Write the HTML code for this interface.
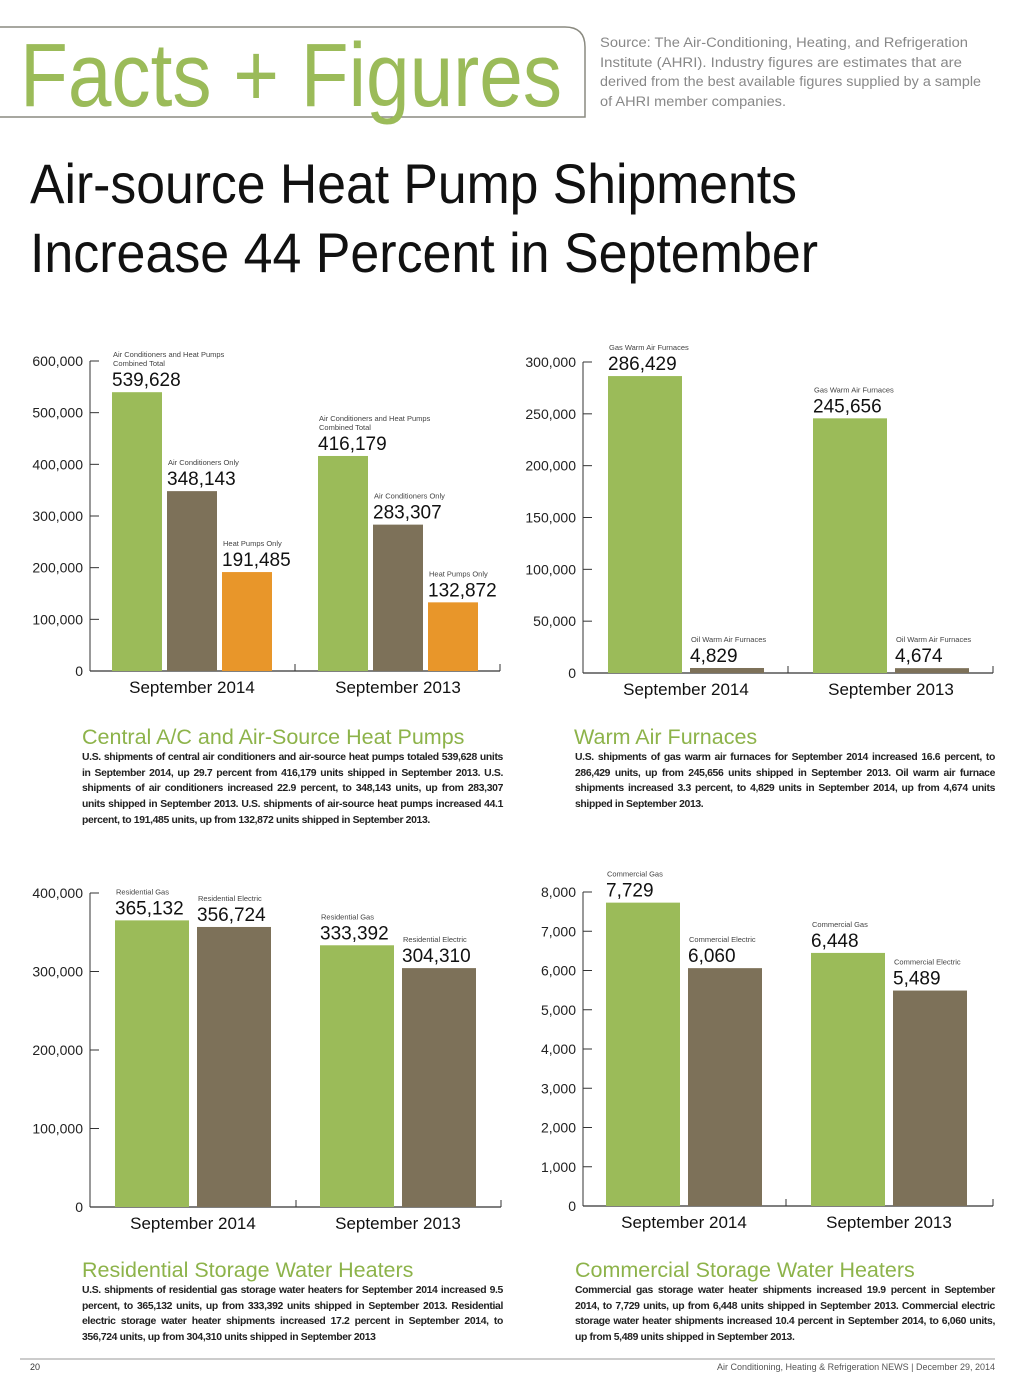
<!DOCTYPE html>
<html><head><meta charset="utf-8"><style>
body{margin:0;background:#fff;font-family:"Liberation Sans",sans-serif}
#page{position:relative;width:1024px;height:1389px;overflow:hidden;background:#fff}
.txt{position:absolute;font-size:10.4px;line-height:15.7px;color:#222;text-align:justify;font-weight:bold;letter-spacing:-0.35px}
.h{position:absolute;font-size:21.5px;color:#8db34a;white-space:nowrap}
</style></head><body>
<div id="page">
<svg id="svg" width="1024" height="1389" style="position:absolute;left:0;top:0">
<path d="M0 27 H565 Q585 27 585 47 V117 H0" fill="none" stroke="#8a8a80" stroke-width="1.5"/>
<text x="20" y="106" font-size="90" fill="#9bbb59" textLength="542" lengthAdjust="spacingAndGlyphs">Facts + Figures</text>
<g font-size="13.5" fill="#888">
<text x="600" y="47" textLength="368" lengthAdjust="spacingAndGlyphs">Source: The Air-Conditioning, Heating, and Refrigeration</text>
<text x="600" y="67" textLength="362" lengthAdjust="spacingAndGlyphs">Institute (AHRI). Industry figures are estimates that are</text>
<text x="600" y="86" textLength="381" lengthAdjust="spacingAndGlyphs">derived from the best available figures supplied by a sample</text>
<text x="600" y="106" textLength="186" lengthAdjust="spacingAndGlyphs">of AHRI member companies.</text>
</g>
<text x="30" y="203" font-size="56" fill="#111" textLength="767" lengthAdjust="spacingAndGlyphs">Air-source Heat Pump Shipments</text>
<text x="30" y="272" font-size="56" fill="#111" textLength="788" lengthAdjust="spacingAndGlyphs">Increase 44 Percent in September</text>
<line x1="20" y1="1359" x2="995" y2="1359" stroke="#999"/>
<text x="30" y="1370" font-size="9" fill="#333">20</text>
<text x="995" y="1370" font-size="9" fill="#555" text-anchor="end">Air Conditioning, Heating &amp; Refrigeration NEWS  |  December 29, 2014</text>
</svg>

<div class="h" style="left:82px;top:725px">Central A/C and Air-Source Heat Pumps</div>
<div class="txt" style="left:82px;top:750px;width:421px">U.S. shipments of central air conditioners and air-source heat pumps totaled 539,628 units in September 2014, up 29.7 percent from 416,179 units shipped in September 2013. U.S. shipments of air conditioners increased 22.9 percent, to 348,143 units, up from 283,307 units shipped in September 2013. U.S. shipments of air-source heat pumps increased 44.1 percent, to 191,485 units, up from 132,872 units shipped in September 2013.</div>
<div class="h" style="left:574px;top:725px">Warm Air Furnaces</div>
<div class="txt" style="left:575px;top:750px;width:420px">U.S. shipments of gas warm air furnaces for September 2014 increased 16.6 percent, to 286,429 units, up from 245,656 units shipped in September 2013. Oil warm air furnace shipments increased 3.3 percent, to 4,829 units in September 2014, up from 4,674 units shipped in September 2013.</div>
<div class="h" style="left:82px;top:1258px">Residential Storage Water Heaters</div>
<div class="txt" style="left:82px;top:1283px;width:421px">U.S. shipments of residential gas storage water heaters for September 2014 increased 9.5 percent, to 365,132 units, up from 333,392 units shipped in September 2013. Residential electric storage water heater shipments increased 17.2 percent in September 2014, to 356,724 units, up from 304,310 units shipped in September 2013</div>
<div class="h" style="left:575px;top:1258px">Commercial Storage Water Heaters</div>
<div class="txt" style="left:575px;top:1283px;width:420px">Commercial gas storage water heater shipments increased 19.9 percent in September 2014, to 7,729 units, up from 6,448 units shipped in September 2013. Commercial electric storage water heater shipments increased 10.4 percent in September 2014, to 6,060 units, up from 5,489 units shipped in September 2013.</div>
</div>
<script>
const categories = ["September 2014", "September 2013"];
const acTotal = [539628, 416179];
const acOnly = [348143, 283307];
const hpOnly = [191485, 132872];
const gasFurn = [286429, 245656];
const oilFurn = [4829, 4674];
const resGas = [365132, 333392];
const resElec = [356724, 304310];
const comGas = [7729, 6448];
const comElec = [6060, 5489];
const ticks1 = [0,100000,200000,300000,400000,500000,600000];
const ticks2 = [0,50000,100000,150000,200000,250000,300000];
const ticks3 = [0,100000,200000,300000,400000];
const ticks4 = [0,1000,2000,3000,4000,5000,6000,7000,8000];

const NS = "http://www.w3.org/2000/svg";
const svg = document.getElementById('svg');
const GREEN="#9bbb59", BROWN="#7d7159", ORANGE="#e8962a";
function mk(tag, attrs, parent){const e=document.createElementNS(NS,tag);for(const k in attrs)e.setAttribute(k,attrs[k]);(parent||svg).appendChild(e);return e;}
const fmt = v => v.toLocaleString('en-US');

function chart(name, ax, y0, yTop, ymax, ticks, series, barW, gap, groupStarts, endX, midTick){
  const g = mk('g', {});
  
  
  const y = v => y0 - (v/ymax)*(y0-yTop);
  mk('line',{x1:ax,y1:y(ticks[ticks.length-1]),x2:ax,y2:y0,stroke:"#333","stroke-width":1},g);
  mk('line',{x1:ax,y1:y0,x2:endX,y2:y0,stroke:"#333","stroke-width":1.2},g);
  mk('line',{x1:midTick,y1:y0-7,x2:midTick,y2:y0,stroke:"#333"},g);
  mk('line',{x1:endX,y1:y0-7,x2:endX,y2:y0,stroke:"#333"},g);
  ticks.forEach(t=>{
    if(t>0) mk('line',{x1:ax,y1:y(t),x2:ax+9,y2:y(t),stroke:"#333"},g);
    const tx = mk('text',{x:ax-7,y:y(t)+5,"font-size":14,"text-anchor":"end",fill:"#222"},g);
    tx.textContent = fmt(t);
    
    
  });
  categories.forEach((c,ci)=>{
    const gx = groupStarts[ci];
    series.forEach((s,si)=>{
      const x = gx + si*(barW+gap);
      const v = s.values[ci];
      const r = mk('rect',{x:x,y:y(v),width:barW,height:y0-y(v),fill:s.color},g);
      
      
      const nt = mk('text',{x:x,y:y(v)-6,"font-size":19,fill:"#111"},g);
      nt.textContent = fmt(v);
      
      
      s.label.forEach((ln,li)=>{
        const lt = mk('text',{x:x+1,y:y(v)-26-(s.label.length-1-li)*9,"font-size":7.5,fill:"#444"},g);
        lt.textContent = ln;
        
        
      });
    });
    const w = series.length*barW + (series.length-1)*gap;
    const ct = mk('text',{x:gx+w/2,y:y0+22,"font-size":17,"text-anchor":"middle",fill:"#111"},g);
    ct.textContent = c;
    
    
  });
}
chart('chart-central-ac',90,671,361,600000,ticks1,[
 {key:'combined',values:acTotal,color:GREEN,label:["Air Conditioners and Heat Pumps","Combined Total"]},
 {key:'ac-only',values:acOnly,color:BROWN,label:["Air Conditioners Only"]},
 {key:'hp-only',values:hpOnly,color:ORANGE,label:["Heat Pumps Only"]}],50,5,[112,318],500,295);
chart('chart-furnaces',583,673,362,300000,ticks2,[
 {key:'gas',values:gasFurn,color:GREEN,label:["Gas Warm Air Furnaces"]},
 {key:'oil',values:oilFurn,color:BROWN,label:["Oil Warm Air Furnaces"]}],74,8,[608,813],993,788);
chart('chart-residential',90,1207,893,400000,ticks3,[
 {key:'res-gas',values:resGas,color:GREEN,label:["Residential Gas"]},
 {key:'res-elec',values:resElec,color:BROWN,label:["Residential Electric"]}],74,8,[115,320],501,296);
chart('chart-commercial',583,1206,892,8000,ticks4,[
 {key:'com-gas',values:comGas,color:GREEN,label:["Commercial Gas"]},
 {key:'com-elec',values:comElec,color:BROWN,label:["Commercial Electric"]}],74,8,[606,811],993,786);
</script>
</body></html>
